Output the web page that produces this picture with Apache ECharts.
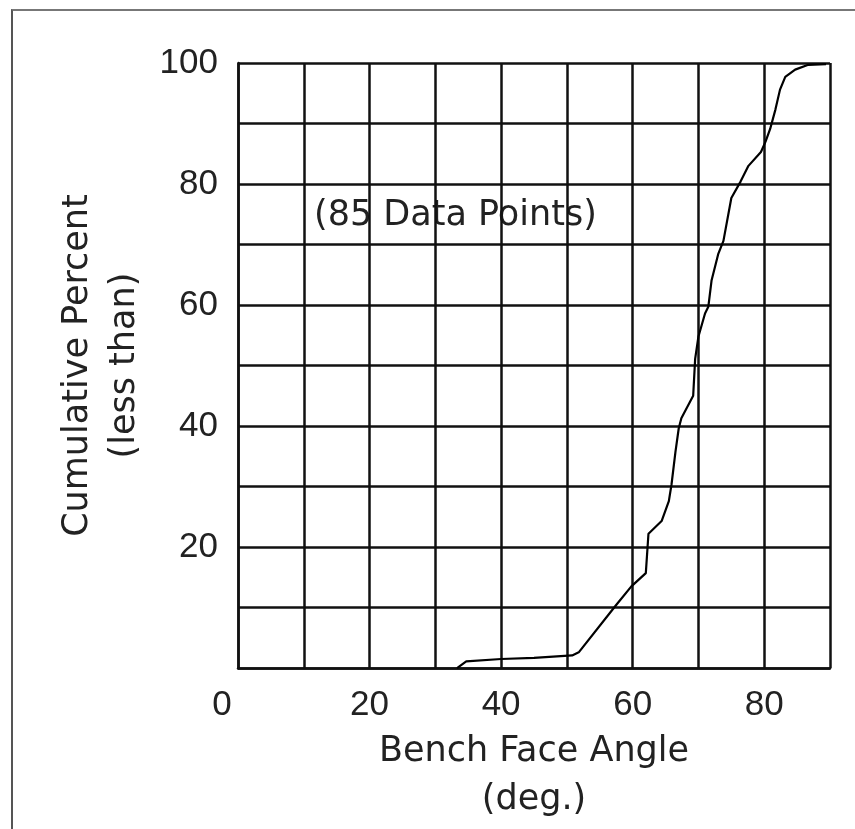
<!DOCTYPE html>
<html>
<head>
<meta charset="utf-8">
<script src="https://cdn.jsdelivr.net/npm/echarts@6/dist/echarts.min.js"></script>
<style>
  html, body { margin: 0; padding: 0; background: #fff; }
  #chart { position: absolute; left: 0; top: 0; width: 855px; height: 829px; }
  #frame { position: absolute; left: 11px; top: 9px; right: 0; bottom: 0;
           border-top: 2px solid #777; border-left: 2px solid #555; pointer-events: none; }
</style>
</head>
<body>
<div id="chart"></div>
<div id="frame"></div>
<script>
// bench face angle (deg) and cumulative percent
var angles = [33.3, 34.7, 40, 45, 50.8, 51.8, 57.4, 59.8, 62, 62.4, 64.4, 65.5, 65.9, 66.5,
  67, 67.4, 69.2, 69.5, 70, 71, 71.5, 72, 73, 73.8, 75, 76.4, 77.6, 79.5, 80.2, 80.9,
  81.7, 82.4, 83.2, 84.7, 86.7, 89.4];
var percents = [0, 1.1, 1.5, 1.7, 2.1, 2.6, 10.3, 13.5, 15.7, 22.2, 24.3, 27.6, 30.3, 35.7,
  39.6, 41.3, 45, 51.1, 54.8, 58.6, 59.7, 64.1, 68.4, 70.6, 77.7, 80.4, 83, 85.3, 87, 89.1,
  92.3, 95.6, 97.7, 98.9, 99.7, 99.8];
var xTicks = [0, 20, 40, 60, 80];
var yTicks = [20, 40, 60, 80, 100];
var note = "(85 Data Points)";

var font = "'Liberation Sans', Arial, Helvetica, sans-serif";
var wideFont = "'DejaVu Sans', sans-serif";
var ink = "#222";
var gridLine = { color: "#111", width: 2.5 };

var data = angles.map(function (a, i) { return [a, percents[i]]; });

var myChart = echarts.init(document.getElementById("chart"));
var option = {
  animation: false,
  backgroundColor: "#fff",
  grid: { left: 238, right: 25, top: 63, bottom: 153, containLabel: false },
  xAxis: {
    type: "value",
    min: 0,
    max: 90,
    interval: 10,
    name: "Bench Face Angle\n(deg.)",
    nameLocation: "middle",
    nameGap: 54,
    nameTextStyle: { fontFamily: wideFont, fontSize: 35, color: ink, lineHeight: 48 },
    axisLine: { show: true, lineStyle: gridLine },
    axisTick: { show: false },
    splitLine: { show: true, lineStyle: gridLine },
    axisLabel: {
      margin: 20,
      fontFamily: font,
      fontSize: 35,
      color: ink,
      showMaxLabel: false,
      formatter: function (v) {
        if (v === 0) return "{z|0}";
        return xTicks.indexOf(v) >= 0 ? String(v) : "";
      },
      rich: { z: { fontFamily: font, fontSize: 35, color: ink, padding: [0, 32, 0, 0] } }
    }
  },
  yAxis: {
    type: "value",
    min: 0,
    max: 100,
    interval: 10,
    name: "Cumulative Percent\n(less than)",
    nameLocation: "middle",
    nameGap: 66,
    nameTextStyle: { fontFamily: wideFont, fontSize: 35, color: ink, lineHeight: 47 },
    axisLine: { show: true, lineStyle: gridLine },
    axisTick: { show: false },
    splitLine: { show: true, lineStyle: gridLine },
    axisLabel: {
      margin: 20,
      fontFamily: font,
      fontSize: 35,
      color: ink,
      formatter: function (v) { return yTicks.indexOf(v) >= 0 ? String(v) : ""; }
    }
  },
  graphic: [{
    type: "text",
    left: 314,
    top: 198,
    z: -1,
    style: { text: note, fontFamily: wideFont, fontSize: 35, fill: ink }
  }],
  series: [{
    type: "line",
    data: data,
    showSymbol: false,
    smooth: false,
    lineStyle: { color: "#000", width: 2.2 },
    z: 5
  }]
};
myChart.setOption(option);
</script>
</body>
</html>
